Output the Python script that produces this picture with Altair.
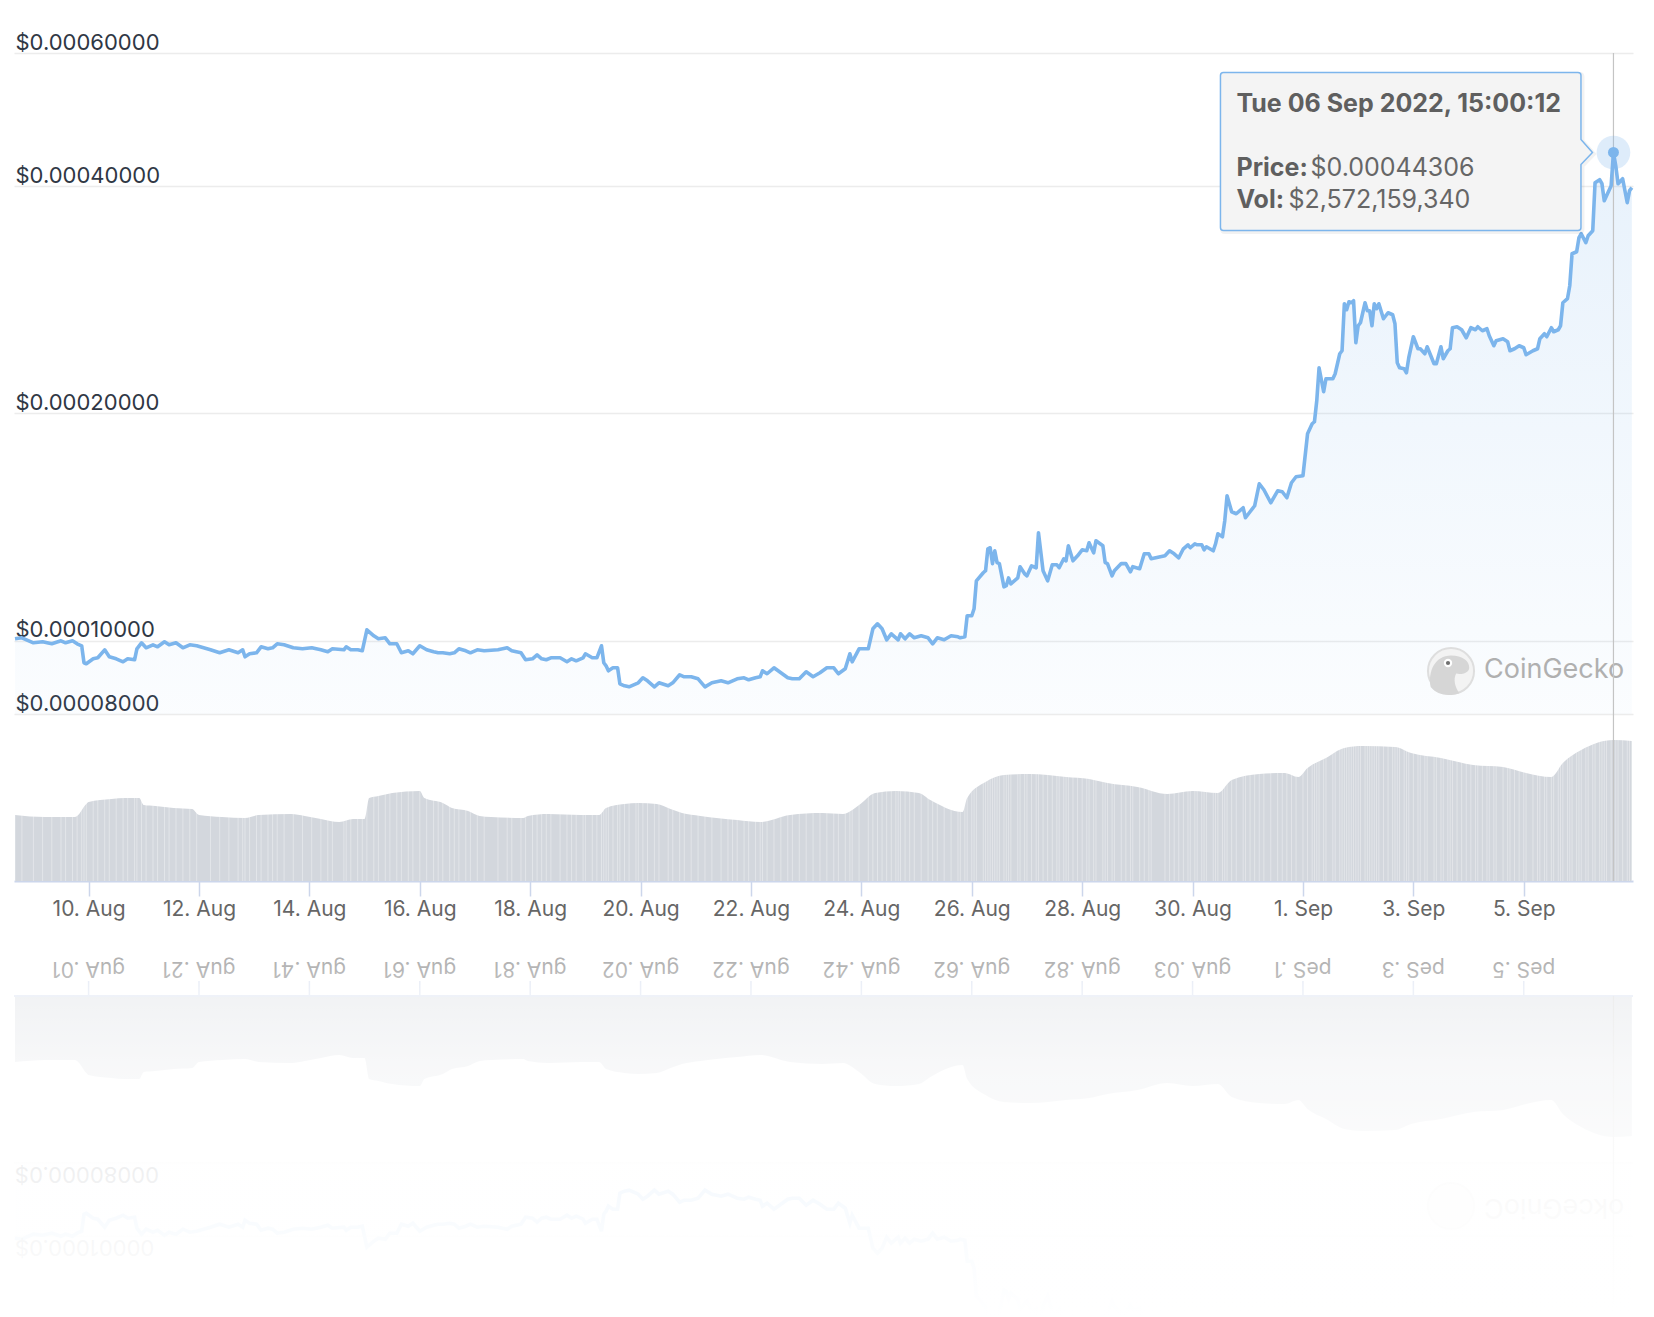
import math
import altair as alt
import pandas as pd

# ---------------- data ----------------
price_times = [
"08-08T16","08-08T19","08-09T00","08-09T04","08-09T08","08-09T12","08-09T14","08-09T17","08-09T19","08-09T21",
"08-09T22","08-09T23","08-10T02","08-10T04","08-10T07","08-10T09","08-10T12","08-10T15","08-10T17","08-10T20",
"08-10T21","08-10T23","08-11T01","08-11T04","08-11T06","08-11T09","08-11T11","08-11T14","08-11T17","08-11T20",
"08-11T23","08-12T05","08-12T09","08-12T13","08-12T17","08-12T19","08-12T20","08-12T22","08-13T01","08-13T03",
"08-13T06","08-13T08","08-13T10","08-13T13","08-13T17","08-13T21","08-14T01","08-14T05","08-14T08","08-14T10",
"08-14T15","08-14T16","08-14T18","08-14T21","08-14T23","08-15T01","08-15T04","08-15T06","08-15T09","08-15T11",
"08-15T14","08-15T16","08-15T19","08-15T21","08-16T00","08-16T03","08-16T06","08-16T08","08-16T10","08-16T13",
"08-16T15","08-16T17","08-16T20","08-16T22","08-17T01","08-17T04","08-17T10","08-17T14","08-17T16","08-17T20",
"08-17T22","08-18T01","08-18T03","08-18T05","08-18T07","08-18T09","08-18T13","08-18T16","08-18T18","08-18T20",
"08-18T23","08-19T00","08-19T03","08-19T05","08-19T07","08-19T08","08-19T09","08-19T10","08-19T12","08-19T14",
"08-19T15","08-19T17","08-19T19","08-19T22","08-19T23","08-20T01","08-20T03","08-20T06","08-20T08","08-20T12",
"08-20T14","08-20T17","08-20T19","08-20T22","08-21T01","08-21T04","08-21T07","08-21T11","08-21T14","08-21T16",
"08-21T18","08-21T21","08-21T23","08-22T02","08-22T04","08-22T05","08-22T07","08-22T10","08-22T13","08-22T16",
"08-22T18","08-22T21","08-23T00","08-23T03","08-23T06","08-23T09","08-23T12","08-23T14","08-23T17","08-23T19",
"08-23T20","08-23T23","08-24T03","08-24T05","08-24T07","08-24T09","08-24T11","08-24T13","08-24T15","08-24T16",
"08-24T17","08-24T19","08-24T21","08-24T23","08-25T02","08-25T05","08-25T07","08-25T09","08-25T12","08-25T15",
"08-25T18","08-25T19","08-25T21","08-25T22","08-26T00","08-26T01","08-26T02","08-26T05","08-26T06","08-26T07",
"08-26T08","08-26T09","08-26T10","08-26T11","08-26T12","08-26T14","08-26T15","08-26T16","08-26T17","08-26T20",
"08-26T21","08-26T23","08-27T00","08-27T02","08-27T04","08-27T05","08-27T07","08-27T09","08-27T11","08-27T13",
"08-27T14","08-27T16","08-27T17","08-27T18","08-27T20","08-27T22","08-28T00","08-28T02","08-28T03","08-28T05",
"08-28T06","08-28T09","08-28T10","08-28T11","08-28T13","08-28T14","08-28T17","08-28T19","08-28T21","08-28T22",
"08-29T01","08-29T03","08-29T05","08-29T06","08-29T12","08-29T14","08-29T16","08-29T18","08-29T20","08-29T22",
"08-29T23","08-30T01","08-30T02","08-30T04","08-30T05","08-30T06","08-30T09","08-30T10","08-30T11","08-30T13",
"08-30T14","08-30T15","08-30T17","08-30T19","08-30T22","08-30T23","08-31T01","08-31T03","08-31T05","08-31T07",
"08-31T10","08-31T13","08-31T15","08-31T17","08-31T19","08-31T21","09-01T00","09-01T02","09-01T04","09-01T05",
"09-01T06","09-01T07","09-01T09","09-01T10","09-01T13","09-01T14","09-01T16","09-01T17","09-01T18","09-01T19",
"09-01T20","09-01T21","09-01T22","09-01T23","09-02T00","09-02T01","09-02T03","09-02T04","09-02T05","09-02T06",
"09-02T07","09-02T08","09-02T09","09-02T11","09-02T13","09-02T15","09-02T16","09-02T17","09-02T18","09-02T20",
"09-02T21","09-02T22","09-03T00","09-03T02","09-03T03","09-03T05","09-03T06","09-03T09","09-03T10","09-03T12",
"09-03T13","09-03T15","09-03T16","09-03T17","09-03T19","09-03T21","09-03T23","09-04T01","09-04T03","09-04T04",
"09-04T06","09-04T08","09-04T09","09-04T11","09-04T12","09-04T15","09-04T17","09-04T18","09-04T20","09-04T22",
"09-05T00","09-05T01","09-05T04","09-05T06","09-05T07","09-05T09","09-05T10","09-05T12","09-05T13","09-05T15",
"09-05T16","09-05T17","09-05T19","09-05T20","09-05T21","09-05T23","09-06T00","09-06T01","09-06T03","09-06T04",
"09-06T06","09-06T07","09-06T09","09-06T10","09-06T11","09-06T12","09-06T14","09-06T15","09-06T16","09-06T17",
"09-06T19","09-06T21","09-06T22","09-06T23"]

# price in units of 1e-8 USD
price_e8 = [
10061,10092,9939,9970,9909,10000,9939,10000,9909,9849,
9352,9323,9466,9495,9729,9524,9466,9380,9466,9438,
9759,9939,9789,9879,9819,9970,9879,9939,9789,9879,
9849,9729,9641,9729,9641,9729,9524,9612,9641,9819,
9759,9789,9909,9879,9789,9759,9789,9729,9670,9759,
9729,9819,9729,9729,9700,10341,10154,10061,10092,9909,
9909,9641,9700,9612,9849,9729,9670,9641,9641,9612,
9641,9759,9700,9641,9729,9700,9729,9789,9700,9641,
9438,9466,9582,9466,9438,9495,9495,9380,9466,9409,
9495,9612,9495,9495,9849,9352,9266,9126,9210,9210,
8771,8718,8691,8771,8798,8934,8852,8691,8798,8718,
8798,9016,8961,8961,8906,8691,8798,8852,8798,8852,
8906,8934,8879,8934,8961,9126,9044,9210,9071,8934,
8906,8906,9099,8961,9071,9210,9210,9044,9182,9612,
9380,9759,9759,10373,10532,10373,10031,10216,10092,10031,
10216,10061,10216,10092,10154,10092,9909,10092,10031,10154,
10123,10092,10123,10792,10792,11025,12004,12304,12382,13238,
13279,12653,13157,12691,12653,11789,11828,12114,11898,12114,
12534,12266,12192,12569,12493,13900,12382,12004,12610,12610,
12493,12840,12761,13358,12761,12958,13197,13157,13482,13077,
13564,13358,12691,12653,12192,12382,12653,12653,12342,12534,
12455,13037,13037,12840,12958,13157,13037,12879,13238,13400,
13279,13441,13400,13400,13197,13319,13157,13441,13857,13731,
14418,15559,14819,14729,15000,14550,14819,15092,16139,15847,
15231,15798,15751,15465,16188,16487,16537,18797,19379,19498,
20786,22986,21365,22228,22228,22570,23989,24208,27938,27431,
28109,28024,28195,24806,26127,26366,28024,27349,27349,26127,
27938,27516,27938,26690,27183,27018,26287,23340,22986,22917,
22639,23698,25264,24357,24357,23989,24506,23269,23269,24506,
23626,24208,24357,25968,26047,25810,25188,25968,25810,26047,
25731,25889,25342,24581,24958,25111,24883,24208,24357,24581,
24432,23916,24208,24357,25111,25498,25264,25968,25653,25810,
26127,28024,28369,29514,32539,32738,34166,34585,33649,34375,
34903,40404,40776,40283,38246,38832,40038,44306,42556,40283,
40899,38013,39433,39794]

vol_times = [
"08-08T16","08-09T05","08-09T18","08-09T19","08-09T23","08-10T00","08-10T10","08-10T16","08-10T22","08-11T00",
"08-11T05","08-11T13","08-11T21","08-12T00","08-12T10","08-12T20","08-13T02","08-13T16","08-13T22","08-14T05",
"08-14T13","08-14T19","08-15T00","08-15T02","08-15T06","08-15T12","08-16T00","08-16T02","08-16T10","08-16T14",
"08-16T21","08-17T02","08-17T07","08-17T21","08-17T23","08-18T08","08-18T22","08-19T06","08-19T09","08-19T17",
"08-19T23","08-20T07","08-20T13","08-20T18","08-21T02","08-21T18","08-22T04","08-22T17","08-23T07","08-23T16",
"08-23T23","08-24T06","08-24T15","08-25T01","08-25T06","08-25T20","08-25T22","08-26T06","08-26T14","08-27T01",
"08-27T17","08-28T03","08-28T11","08-29T00","08-29T13","08-30T00","08-30T11","08-30T17","08-31T05","08-31T16",
"08-31T22","09-01T02","09-01T10","09-01T18","09-02T02","09-02T16","09-02T23","09-03T12","09-04T02","09-04T15",
"09-05T01","09-05T12","09-05T17","09-06T01","09-06T15","09-06T23"]
# 24h volume, billions of USD
vol_bn = [
1.204,1.167,1.167,1.186,1.404,1.441,1.496,1.514,1.514,1.386,
1.368,1.332,1.313,1.204,1.167,1.149,1.204,1.222,1.186,1.131,
1.076,1.131,1.131,1.514,1.550,1.605,1.642,1.514,1.423,1.332,
1.277,1.186,1.167,1.149,1.186,1.222,1.204,1.204,1.332,1.404,
1.423,1.404,1.313,1.240,1.186,1.113,1.076,1.204,1.240,1.222,
1.386,1.605,1.642,1.605,1.477,1.259,1.514,1.806,1.934,1.952,
1.897,1.861,1.788,1.715,1.587,1.642,1.605,1.842,1.952,1.970,
1.897,2.061,2.244,2.426,2.462,2.444,2.335,2.244,2.116,2.079,
1.970,1.897,2.152,2.389,2.572159340,2.554]

tick_dates = ["08-10","08-12","08-14","08-16","08-18","08-20","08-22","08-24",
              "08-26","08-28","08-30","09-01","09-03","09-05"]
tick_labels = ["10. Aug","12. Aug","14. Aug","16. Aug","18. Aug","20. Aug","22. Aug",
               "24. Aug","26. Aug","28. Aug","30. Aug","1. Sep","3. Sep","5. Sep"]
price_ticks = [0.00008, 0.0001, 0.0002, 0.0004, 0.0006]
price_tick_labels = ["$0.00008000", "$0.00010000", "$0.00020000", "$0.00040000", "$0.00060000"]

hover_time = "09-06T15:00:12"
hover_price = 0.00044306
hover_vol = 2572159340
watermark = "CoinGecko"

# ---------------- layout constants ----------------
W, H = 1619, 1264            # plot area (whole page minus padding)
AXIS_PX = 828                # x-axis line, px from plot top
LOW_GRID_PX = 661            # $0.00008 grid, px from plot top
MIRROR_PX = 885.5            # reflection line
P_TOP = 0.0006
K = LOW_GRID_PX / math.log(P_TOP / 0.00008)
P_LO = P_TOP * math.exp(-H / K)
PM = P_TOP * math.exp(-MIRROR_PX / K)
VPP = 2.572159340 / 141.0    # billions per px in the volume pane
V_HI = AXIS_PX * VPP
V_LO = -(H - AXIS_PX) * VPP
VM = (AXIS_PX - MIRROR_PX) * VPP
LABEL_PX = 856
FONT = "Inter"
BLUE = "#7cb5ec"
LINE_W = 3.6


def ts(lst, fmt="%m-%dT%H"):
    return pd.to_datetime(["2022-" + s for s in lst], format="%Y-" + fmt, utc=True)


price_df = pd.DataFrame({"t": ts(price_times), "price": [v * 1e-8 for v in price_e8]})
price_df["base"] = 0.00008
price_df["rp"] = PM ** 2 / price_df["price"]
price_df["rbase"] = PM ** 2 / 0.00008

vol_df = pd.DataFrame({"t": ts(vol_times), "vol": vol_bn})
vol_df["zero"] = 0.0
vol_df["rv"] = 2 * VM - vol_df["vol"]
vol_df["rzero"] = 2 * VM

tex_df = pd.DataFrame({"t": price_df["t"], "lo": 0.0, "hi": 2.65})

tick_df = pd.DataFrame({"t": ts(tick_dates, "%m-%d"), "label": tick_labels})
tick_df["rev"] = [s[::-1] for s in tick_labels]

ylab_df = pd.DataFrame({"g": price_ticks, "label": price_tick_labels})
ylab_df["rg"] = PM ** 2 / ylab_df["g"]
ylab_df["rev"] = [s[::-1] for s in price_tick_labels]
ylab_df = ylab_df[ylab_df["rg"] > P_LO]

ht = pd.to_datetime("2022-" + hover_time, format="%Y-%m-%dT%H:%M:%S", utc=True)
hover_df = pd.DataFrame({
    "t": [ht], "price": [hover_price],
    "header": [ht.strftime("%a %d %b %Y, %H:%M:%S")],
    "ptxt": ["$%.8f" % hover_price],
    "vtxt": ["${:,.0f}".format(hover_vol)],
})
one = pd.DataFrame({"k": [0]})

# ---------------- scales / axes ----------------
xdom = [alt.DateTime(year=2022, month=8, date=8, hours=15, minutes=34, utc=True),
        alt.DateTime(year=2022, month=9, date=6, hours=23, minutes=30, utc=True)]
xvals = [alt.DateTime(year=2022, month=int(d[:2]), date=int(d[3:]), utc=True) for d in tick_dates]
xaxis = alt.Axis(values=xvals, format="%-d. %b", orient="bottom", offset=-(H - AXIS_PX),
                 grid=False, domainColor="#ccd6eb", domainWidth=2, tickColor="#ccd6eb",
                 tickWidth=1.5, tickSize=15, labelPadding=13, labelBaseline="middle",
                 labelFont=FONT, labelFontSize=21, labelColor="#666666",
                 labelFlush=False, labelOverlap=False, title=None)
XS = alt.Scale(type="utc", domain=xdom)
X = alt.X("t:T", scale=XS, axis=xaxis)
PS = alt.Scale(type="log", domain=[P_LO, P_TOP], nice=False, zero=False)
VS = alt.Scale(domain=[V_LO, V_HI], nice=False, zero=False)
yaxis = alt.Axis(values=price_ticks, labelExpr="'$' + format(datum.value, '.8f')", orient="left",
                 domain=False, ticks=False, tickSize=0, labelPadding=-1, labelAlign="left",
                 labelBaseline="alphabetic", labelOffset=-4, grid=True, gridColor="#ececec",
                 gridWidth=1.5, labelFont=FONT, labelFontSize=22, labelColor="#2f3744",
                 labelFlush=False, labelOverlap=False, labelBound=False, title=None)


def YP(f):
    return alt.Y(f, type="quantitative", scale=PS, axis=None)


def YV(f):
    return alt.Y(f, type="quantitative", scale=VS, axis=None)


fill_grad = alt.Gradient(gradient="linear", x1=0, x2=0, y1=0, y2=1, stops=[
    alt.GradientStop(color="rgba(124,181,236,0.18)", offset=0),
    alt.GradientStop(color="rgba(124,181,236,0.03)", offset=1)])
rfill_grad = alt.Gradient(gradient="linear", x1=0, x2=0, y1=1, y2=0, stops=[
    alt.GradientStop(color="rgba(124,181,236,0.18)", offset=0),
    alt.GradientStop(color="rgba(124,181,236,0.03)", offset=1)])
fade_grad = alt.Gradient(gradient="linear", x1=0, x2=0, y1=0, y2=1, stops=[
    alt.GradientStop(color="rgba(255,255,255,0.45)", offset=0),
    alt.GradientStop(color="rgba(255,255,255,0.52)", offset=0.08),
    alt.GradientStop(color="rgba(255,255,255,0.70)", offset=0.16),
    alt.GradientStop(color="rgba(255,255,255,0.83)", offset=0.34),
    alt.GradientStop(color="rgba(255,255,255,0.92)", offset=0.6),
    alt.GradientStop(color="rgba(255,255,255,0.96)", offset=0.79),
    alt.GradientStop(color="rgba(255,255,255,1.0)", offset=1)])

CALLOUT = ("M -1.95 -0.4 L -0.1775 -0.4 Q -0.1625 -0.4 -0.1625 -0.385 L -0.1625 -0.065 "
           "L -0.105 0 L -0.1625 0.06 L -0.1625 0.375 Q -0.1625 0.39 -0.1775 0.39 "
           "L -1.95 0.39 Q -1.965 0.39 -1.965 0.375 L -1.965 -0.385 Q -1.965 -0.4 -1.95 -0.4 Z")
GECKO = ("M -0.78 0.62 C -0.9 0.0 -0.6 -0.6 0.0 -0.6 C 0.45 -0.6 0.72 -0.38 0.7 -0.12 "
         "C 0.68 0.08 0.42 0.14 0.2 0.1 C 0.08 0.32 0.15 0.62 0.32 0.86 "
         "C -0.12 1.0 -0.55 0.92 -0.78 0.62 Z")

# ---------------- layers ----------------
layers = []
# reflection (drawn first, faded by the overlay below)
layers.append(alt.Chart(vol_df).mark_area(color="#d3d7dd", interpolate="monotone", clip=True)
              .encode(x=X, y=YV("rv"), y2="rzero"))
layers.append(alt.Chart(price_df).mark_area(color=rfill_grad, clip=True)
              .encode(x=X, y=YP("rp"), y2="rbase"))
layers.append(alt.Chart(ylab_df).mark_rule(color="#ececec", strokeWidth=1.5)
              .encode(x=alt.value(0), x2=alt.value(W), y=YP("rg")))
layers.append(alt.Chart(price_df).mark_line(color=BLUE, strokeWidth=LINE_W, clip=True)
              .encode(x=X, y=YP("rp")))
layers.append(alt.Chart(ylab_df).mark_text(font=FONT, fontSize=22, color="#2f3744", angle=180,
                                           align="right", baseline="alphabetic", dy=-4)
              .encode(x=alt.value(1), y=YP("rg"), text="rev:N"))
layers.append(alt.Chart(one).mark_rule(color="#ccd6eb", strokeWidth=2)
              .encode(x=alt.value(0), x2=alt.value(W), y=alt.value(2 * MIRROR_PX - AXIS_PX)))
layers.append(alt.Chart(tick_df).mark_rule(color="#ccd6eb", strokeWidth=1.5)
              .encode(x=X, y=alt.value(2 * MIRROR_PX - AXIS_PX), y2=alt.value(2 * MIRROR_PX - AXIS_PX - 15)))
layers.append(alt.Chart(tick_df).mark_text(font=FONT, fontSize=21, color="#666666", angle=180,
                                           align="center", baseline="middle")
              .encode(x=X, y=alt.value(2 * MIRROR_PX - LABEL_PX), text="rev:N"))
layers.append(alt.Chart(hover_df).mark_rule(color="#c4c4c4", strokeWidth=1.2)
              .encode(x=X, y=alt.value(2 * MIRROR_PX - AXIS_PX), y2=alt.value(H)))
layers.append(alt.Chart(one).mark_point(shape="circle", size=2124, filled=True, fill="#f3f3f3",
                                        stroke="#dcdcdc", strokeWidth=2, opacity=1)
              .encode(x=alt.value(1437), y=alt.value(2 * MIRROR_PX - 618)))
layers.append(alt.Chart(one).mark_text(font=FONT, fontSize=27, color="#b0b0b0", angle=180,
                                       align="right", baseline="middle")
              .encode(x=alt.value(1470), y=alt.value(2 * MIRROR_PX - 617), text=alt.value(watermark[::-1])))
layers.append(alt.Chart(one).mark_rect(color=fade_grad)
              .encode(x=alt.value(0), x2=alt.value(W), y=alt.value(MIRROR_PX), y2=alt.value(H)))

# main chart
layers.append(alt.Chart(price_df).mark_area(color=fill_grad)
              .encode(x=X, y=YP("price"), y2="base"))
layers.append(alt.Chart(vol_df).mark_area(color="#d3d7dd", interpolate="monotone")
              .encode(x=X, y=YV("vol"), y2="zero"))
layers.append(alt.Chart(tex_df).mark_rule(color="white", strokeWidth=0.8, opacity=0.45)
              .encode(x=X, y=YV("lo"), y2="hi"))
# watermark
layers.append(alt.Chart(one).mark_point(shape="circle", size=2124, filled=True, fill="#f3f3f3",
                                        stroke="#dedede", strokeWidth=2, opacity=1)
              .encode(x=alt.value(1437), y=alt.value(618)))
layers.append(alt.Chart(one).mark_point(shape=GECKO, size=2704, filled=True, fill="#d6d6d6", opacity=1)
              .encode(x=alt.value(1437), y=alt.value(618)))
layers.append(alt.Chart(one).mark_point(shape="circle", size=70, filled=True, fill="white", opacity=1)
              .encode(x=alt.value(1434), y=alt.value(610)))
layers.append(alt.Chart(one).mark_point(shape="circle", size=18, filled=True, fill="#707070", opacity=1)
              .encode(x=alt.value(1434), y=alt.value(610)))
layers.append(alt.Chart(one).mark_text(font=FONT, fontSize=27, color="#b0b0b0", align="left", baseline="middle")
              .encode(x=alt.value(1470), y=alt.value(617), text=alt.value(watermark)))
# crosshair
layers.append(alt.Chart(hover_df).mark_rule(color="#c4c4c4", strokeWidth=1.2)
              .encode(x=X, y=alt.value(0), y2=alt.value(AXIS_PX)))
# price line (carries both axes)
layers.append(alt.Chart(price_df).mark_line(color=BLUE, strokeWidth=LINE_W, strokeJoin="round")
              .encode(x=X, y=alt.Y("price:Q", scale=PS, axis=yaxis)))
# hover marker
layers.append(alt.Chart(hover_df).mark_circle(size=1134, color=BLUE, opacity=0.25)
              .encode(x=X, y=YP("price")))
layers.append(alt.Chart(hover_df).mark_circle(size=120, color=BLUE, opacity=1)
              .encode(x=X, y=YP("price")))
# tooltip callout
layers.append(alt.Chart(hover_df).mark_point(shape=CALLOUT, size=160000, filled=False, stroke="#000000",
                                             strokeOpacity=0.07, strokeWidth=4, xOffset=1.5, yOffset=1.5)
              .encode(x=X, y=YP("price")))
layers.append(alt.Chart(hover_df).mark_point(shape=CALLOUT, size=160000, filled=True, fill="#f4f4f4",
                                             stroke=BLUE, strokeWidth=1.5, opacity=1)
              .encode(x=X, y=YP("price")))
layers.append(alt.Chart(hover_df).mark_text(font=FONT, fontSize=25, fontWeight="bold", color="#5f5f5f",
                                            align="left", baseline="middle", dx=-377, dy=-48)
              .encode(x=X, y=YP("price"), text="header:N"))
layers.append(alt.Chart(hover_df).mark_text(font=FONT, fontSize=25, fontWeight="bold", color="#5f5f5f",
                                            align="left", baseline="middle", dx=-377, dy=16)
              .encode(x=X, y=YP("price"), text=alt.value("Price:")))
layers.append(alt.Chart(hover_df).mark_text(font=FONT, fontSize=25, color="#666666",
                                            align="left", baseline="middle", dx=-303, dy=16)
              .encode(x=X, y=YP("price"), text="ptxt:N"))
layers.append(alt.Chart(hover_df).mark_text(font=FONT, fontSize=25, fontWeight="bold", color="#5f5f5f",
                                            align="left", baseline="middle", dx=-377, dy=48)
              .encode(x=X, y=YP("price"), text=alt.value("Vol:")))
layers.append(alt.Chart(hover_df).mark_text(font=FONT, fontSize=25, color="#666666",
                                            align="left", baseline="middle", dx=-325, dy=48)
              .encode(x=X, y=YP("price"), text="vtxt:N"))

chart = (alt.layer(*layers)
         .resolve_scale(y="independent")
         .properties(width=W, height=H, background="white",
                     padding={"left": 14, "top": 53, "right": 21, "bottom": 0},
                     autosize=alt.AutoSizeParams(type="none"))
         .configure_view(strokeWidth=0))

chart.save("out.html", embed_options={"renderer": "svg", "actions": False})
